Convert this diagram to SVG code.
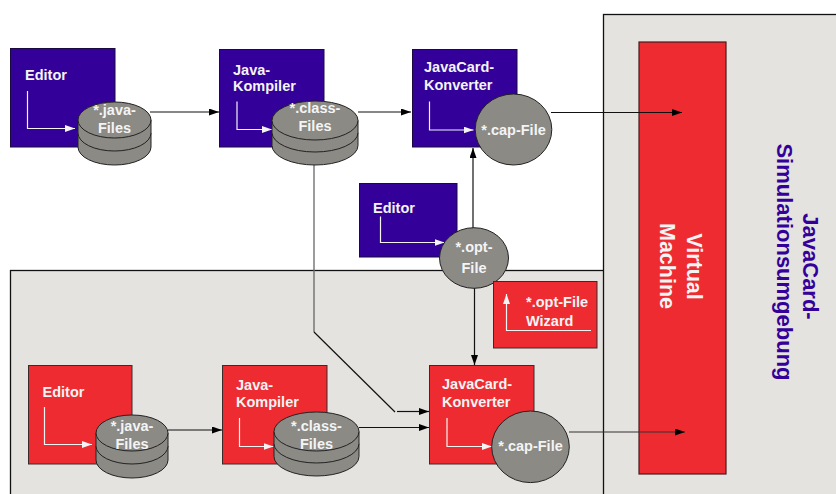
<svg xmlns="http://www.w3.org/2000/svg" width="836" height="494" viewBox="0 0 836 494">
<defs>
<style>
.t{font-family:"Liberation Sans",Arial,sans-serif;font-weight:bold;font-size:14.5px;fill:#f4f4f4}
.pu{fill:#330099;stroke:#1a0a40;stroke-width:1}
.rd{fill:#ee2b30;stroke:#3a2a2a;stroke-width:1}
.dk{fill:#8b8a85;stroke:#222;stroke-width:1}
.wa{fill:none;stroke:#f4f4f4;stroke-width:1.2;marker-end:url(#wh)}
.ln{fill:none;stroke:#111;stroke-width:1.2}
.ar{fill:none;stroke:#111;stroke-width:1.2;marker-end:url(#bk)}
.pan{fill:#e4e3e0;stroke:#111;stroke-width:1.3}
</style>
<marker id="bk" markerUnits="userSpaceOnUse" markerWidth="10" markerHeight="7" refX="10" refY="3.5" orient="auto"><path d="M0,0 L10,3.5 L0,7 z" fill="#000"/></marker>
<marker id="wh" markerUnits="userSpaceOnUse" markerWidth="10" markerHeight="7" refX="10" refY="3.5" orient="auto"><path d="M0,0 L10,3.5 L0,7 z" fill="#f4f4f4"/></marker>
</defs>
<rect width="836" height="494" fill="#fff"/>
<rect id="lower-panel" class="pan" x="10.5" y="270.5" width="700" height="300"/>
<g id="sim-env">
<rect class="pan" x="603.5" y="14.5" width="260" height="500"/>
<text class="t" style="fill:#330099;font-size:22px" x="803" y="266.5" text-anchor="middle" transform="rotate(90 803 266.5)">JavaCard-</text>
<text class="t" style="fill:#330099;font-size:22px" x="777" y="262" text-anchor="middle" transform="rotate(90 777 262)">Simulationsumgebung</text>
</g>
<g id="vm">
<rect x="639" y="42" width="87" height="432" fill="#ee2b30" stroke="#4a1a1a" stroke-width="1.2"/>
<text class="t" style="font-size:21.5px" x="687" y="266.5" text-anchor="middle" transform="rotate(90 687 266.5)">Virtual</text>
<text class="t" style="font-size:21.5px" x="660" y="266" text-anchor="middle" transform="rotate(90 660 266)">Machine</text>
</g>
<g id="connectors">
<path class="ar" d="M150,112 H219"/>
<path class="ar" d="M358,112 H411"/>
<path class="ar" d="M551,112.5 H682"/>
<path class="ar" d="M473,228 V148"/>
<path class="ar" d="M474.5,288 V365"/>
<path fill="none" stroke="#666" stroke-width="1.3" d="M314,165 V332"/>
<path class="ln" d="M314,332 L395,412"/>
<path class="ar" d="M397,411.5 H429"/>
<path class="ar" d="M168,430 H222"/>
<path class="ar" d="M359,427.5 H429"/>
<path class="ar" style="stroke:#333" d="M569,432 H685"/>
</g>
<g id="editor1">
<rect class="pu" x="10.5" y="48.5" width="104.5" height="98.5"/>
<text class="t" x="25" y="80">Editor</text>
<path class="wa" d="M27.5,91 V128.5 H75"/>
</g>
<g id="javafiles1">
<path class="dk" d="M78,133 V147 A36.5,18 0 0 0 151,147 V133 Z"/>
<path class="dk" d="M78,120 V133 A36.5,18 0 0 0 151,133 V120 Z"/>
<ellipse class="dk" cx="114.5" cy="120" rx="36.5" ry="18"/>
<text class="t" x="114.5" y="115" text-anchor="middle">*.java-</text>
<text class="t" x="114.5" y="133" text-anchor="middle">Files</text>
</g>
<g id="kompiler1">
<rect class="pu" x="219.5" y="49.5" width="104.5" height="97.5"/>
<text class="t" x="233" y="74.5">Java-</text>
<text class="t" x="233" y="90.5">Kompiler</text>
<path class="wa" d="M237,101.5 V129.5 H272"/>
</g>
<g id="classfiles1">
<path class="dk" d="M272,132.5 V145.5 A43,19.5 0 0 0 358,145.5 V132.5 Z"/>
<path class="dk" d="M272,120.5 V132.5 A43,19.5 0 0 0 358,132.5 V120.5 Z"/>
<ellipse class="dk" cx="315" cy="120.5" rx="43" ry="19.5"/>
<text class="t" x="315" y="113" text-anchor="middle">*.class-</text>
<text class="t" x="315" y="131" text-anchor="middle">Files</text>
</g>
<g id="konverter1">
<rect class="pu" x="412.5" y="49.5" width="104.5" height="97.5"/>
<text class="t" x="424" y="72">JavaCard-</text>
<text class="t" x="424" y="90">Konverter</text>
<path class="wa" d="M429.5,101.5 V130 H473.5"/>
</g>
<g id="capfile1">
<ellipse class="dk" cx="513.5" cy="129.5" rx="38.3" ry="35.5"/>
<text class="t" x="513.5" y="134.5" text-anchor="middle">*.cap-File</text>
</g>
<g id="editor-opt">
<rect class="pu" x="359.5" y="183.5" width="97.5" height="73.5"/>
<text class="t" x="373" y="212.5">Editor</text>
<path class="wa" d="M380.5,216.5 V242.5 H444.5"/>
</g>
<g id="optfile">
<ellipse class="dk" cx="474" cy="258" rx="34.5" ry="30.3"/>
<text class="t" x="474" y="252" text-anchor="middle">*.opt-</text>
<text class="t" x="474" y="272.5" text-anchor="middle">File</text>
</g>
<g id="wizard">
<rect class="rd" x="493.5" y="281.5" width="103.5" height="66.5"/>
<text class="t" x="526" y="307">*.opt-File</text>
<text class="t" x="526" y="326">Wizard</text>
<path class="wa" d="M591,330.5 H506.5 V294"/>
</g>
<g id="editor2">
<rect class="rd" x="28.5" y="365.5" width="103.5" height="98.5"/>
<text class="t" x="42.5" y="397">Editor</text>
<path class="wa" d="M44.5,407 V444.5 H92"/>
</g>
<g id="javafiles2">
<path class="dk" d="M96,446 V460 A36,18 0 0 0 168,460 V446 Z"/>
<path class="dk" d="M96,433 V446 A36,18 0 0 0 168,446 V433 Z"/>
<ellipse class="dk" cx="132" cy="433" rx="36" ry="18"/>
<text class="t" x="132" y="430.5" text-anchor="middle">*.java-</text>
<text class="t" x="132" y="449" text-anchor="middle">Files</text>
</g>
<g id="kompiler2">
<rect class="rd" x="222.5" y="365.5" width="104.5" height="98.5"/>
<text class="t" x="236" y="389.5">Java-</text>
<text class="t" x="236" y="407">Kompiler</text>
<path class="wa" d="M239.5,418 V446.5 H273.5"/>
</g>
<g id="classfiles2">
<path class="dk" d="M274,443.5 V456.5 A42.5,19.5 0 0 0 359,456.5 V443.5 Z"/>
<path class="dk" d="M274,431.5 V443.5 A42.5,19.5 0 0 0 359,443.5 V431.5 Z"/>
<ellipse class="dk" cx="316.5" cy="431.5" rx="42.5" ry="19.5"/>
<text class="t" x="316.5" y="431" text-anchor="middle">*.class-</text>
<text class="t" x="316.5" y="449" text-anchor="middle">Files</text>
</g>
<g id="konverter2">
<rect class="rd" x="429.5" y="365.5" width="104.5" height="98.5"/>
<text class="t" x="442" y="388.5">JavaCard-</text>
<text class="t" x="442" y="406.5">Konverter</text>
<path class="wa" d="M447,418 V446.5 H492"/>
</g>
<g id="capfile2">
<ellipse class="dk" cx="530.5" cy="446.8" rx="38.8" ry="35.8"/>
<text class="t" x="530.5" y="451" text-anchor="middle">*.cap-File</text>
</g>
</svg>
